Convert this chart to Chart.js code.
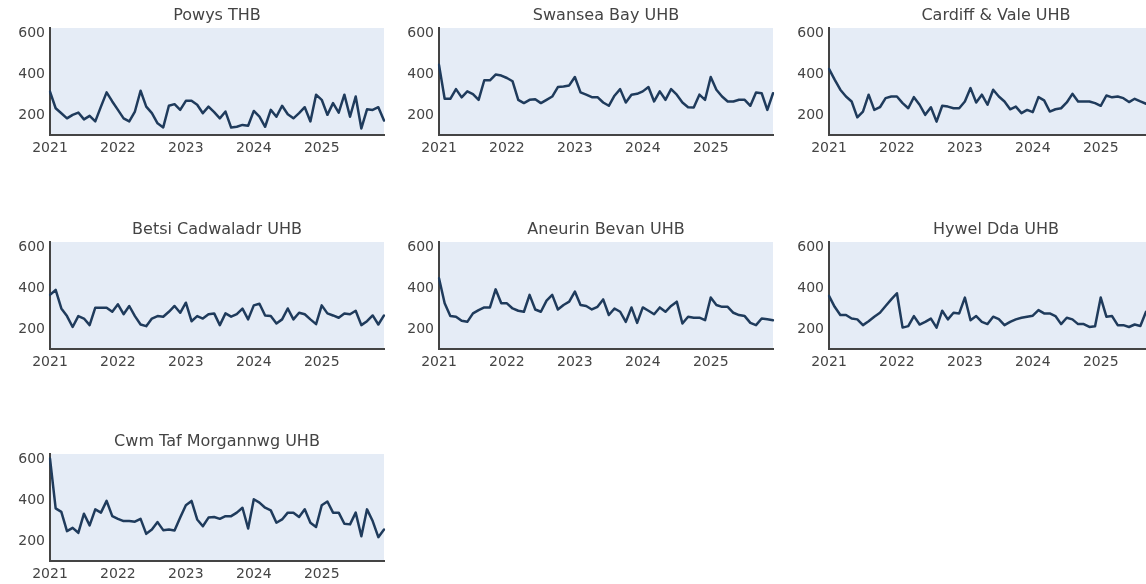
<!DOCTYPE html>
<html>
<head>
<meta charset="utf-8">
<script src="https://cdn.jsdelivr.net/npm/chart.js@4/dist/chart.umd.min.js"></script>
<style>
  html, body { margin: 0; padding: 0; background: #ffffff; overflow: hidden; width: 1146px; height: 584px; }
  #wrap { position: relative; width: 1146px; height: 584px; overflow: hidden; }
  canvas { position: absolute; }
</style>
</head>
<body>
<div id="wrap"></div>
<script>
// ---------- DATA ----------
const years = [2021, 2022, 2023, 2024, 2025];
const xTickLabels = ['2021', '2022', '2023', '2024', '2025'];
const yTickValues = [200, 400, 600];

const titles = [
  'Powys THB', 'Swansea Bay UHB', 'Cardiff & Vale UHB',
  'Betsi Cadwaladr UHB', 'Aneurin Bevan UHB', 'Hywel Dda UHB',
  'Cwm Taf Morgannwg UHB'
];

const powys = [315,234,210,185,202,213,180,197,170,242,311,267,
  226,185,170,218,319,242,210,161,141,246,254,226,
  270,270,251,210,242,215,185,218,140,144,153,149,
  221,193,144,226,193,246,205,185,210,239,170,300,
  275,202,259,213,300,193,291,136,229,226,239,174];

const swansea = [445,280,280,327,287,316,303,275,370,370,398,393,
  381,365,275,259,275,278,259,275,291,337,340,345,
  386,311,300,288,288,262,246,295,327,262,300,304,
  316,337,267,316,275,327,300,262,239,238,300,275,
  386,324,291,267,267,275,275,246,311,307,226,307];

const cardiff = [425,373,324,291,267,190,218,300,226,239,283,291,
  291,259,234,288,251,202,239,169,246,242,234,234,
  267,332,262,300,251,324,291,267,229,242,210,226,
  215,288,272,218,229,234,262,304,267,267,267,259,
  246,296,287,291,283,264,280,267,256,255,262,250];

const betsi = [367,391,301,264,211,264,252,220,305,305,305,285,
  321,273,313,264,223,215,252,264,261,285,313,280,
  329,239,264,252,273,277,220,277,261,273,300,248,
  316,324,267,264,228,248,301,248,280,273,248,225,
  316,277,267,256,277,273,290,220,239,267,223,267];

const aneurin = [448,326,264,261,241,236,277,293,306,306,394,326,
  326,301,290,285,367,296,285,339,367,296,318,334,
  383,318,313,296,309,345,269,301,285,236,306,231,
  306,290,273,306,285,313,334,228,261,256,256,244,
  354,318,309,309,280,269,264,231,220,252,249,244];

const hywel = [362,309,269,269,252,248,220,239,261,280,313,345,
  375,208,215,264,223,236,252,208,290,248,280,277,
  354,244,264,236,225,261,249,220,236,248,256,261,
  266,293,277,277,264,225,256,248,225,225,211,215,
  354,261,264,220,220,211,223,216,285,270,250,260];

const cwmtaf = [602,360,343,249,265,241,334,277,355,339,396,322,
  309,298,298,295,309,236,257,293,254,257,252,315,
  375,396,306,273,315,318,309,322,322,339,363,262,
  404,388,363,350,290,306,339,339,318,355,290,269,
  375,393,339,339,285,282,339,224,355,298,220,257];

const seriesList = [powys, swansea, cardiff, betsi, aneurin, hywel, cwmtaf];

// month categories built from the years list
const months = [];
years.forEach(y => { for (let m = 1; m <= 12; m++) months.push(y + '-' + String(m).padStart(2, '0')); });

// ---------- LAYOUT ----------
const colLefts = [0, 389, 779];
const rowTops = [0, 214, 426];
const Y_AXIS_W = 50, PLOT_W = 334, TITLE_H = 28, PLOT_H = 107, X_AXIS_H = 30;
const CANVAS_W = Y_AXIS_W + PLOT_W + 4;
const CANVAS_H = TITLE_H + PLOT_H + X_AXIS_H;

const FONT = "'DejaVu Sans', Verdana, sans-serif";
const TEXT_COLOR = '#444444';
const LINE_COLOR = '#1f3b5c';
const PLOT_BG = '#e5ecf6';

const plotBg = {
  id: 'plotBg',
  beforeDraw(chart) {
    const a = chart.chartArea, ctx = chart.ctx;
    ctx.save();
    ctx.fillStyle = PLOT_BG;
    ctx.fillRect(a.left, a.top, a.right - a.left, a.bottom - a.top);
    ctx.restore();
  }
};

const wrap = document.getElementById('wrap');

seriesList.forEach((values, i) => {
  const col = i % 3, row = Math.floor(i / 3);
  const canvas = document.createElement('canvas');
  canvas.width = CANVAS_W;
  canvas.height = CANVAS_H;
  canvas.style.left = colLefts[col] + 'px';
  canvas.style.top = rowTops[row] + 'px';
  canvas.style.width = CANVAS_W + 'px';
  canvas.style.height = CANVAS_H + 'px';
  wrap.appendChild(canvas);

  new Chart(canvas, {
    type: 'line',
    data: {
      labels: months,
      datasets: [{
        data: values,
        borderColor: LINE_COLOR,
        borderWidth: 2.5,
        pointRadius: 0,
        pointHoverRadius: 0,
        tension: 0,
        fill: false,
        borderJoinStyle: 'round',
        borderCapStyle: 'round'
      }]
    },
    options: {
      responsive: false,
      maintainAspectRatio: false,
      animation: false,
      devicePixelRatio: 1,
      layout: { padding: { left: 0, right: 4, top: 0, bottom: 0 } },
      plugins: {
        legend: { display: false },
        tooltip: { enabled: false },
        title: {
          display: true,
          text: titles[i],
          fullSize: false,
          color: TEXT_COLOR,
          font: { family: FONT, size: 16, weight: 'normal', lineHeight: 1.2 },
          padding: { top: 6, bottom: 2.8 }
        }
      },
      scales: {
        x: {
          type: 'category',
          offset: false,
          grid: { display: false, drawTicks: false },
          border: { display: true, color: TEXT_COLOR, width: 2 },
          ticks: {
            autoSkip: false,
            maxRotation: 0,
            minRotation: 0,
            padding: 5,
            color: TEXT_COLOR,
            font: { family: FONT, size: 14 },
            callback: function (value) {
              const lab = this.getLabelForValue(value);
              const yr = lab.slice(0, 4);
              return (lab.slice(5) === '01' && xTickLabels.includes(yr)) ? yr : null;
            }
          },
          afterFit(scale) { scale.height = X_AXIS_H; }
        },
        y: {
          type: 'linear',
          min: 104,
          max: 624,
          grid: { display: false, drawTicks: false },
          border: { display: true, color: TEXT_COLOR, width: 2 },
          ticks: {
            padding: 5,
            color: TEXT_COLOR,
            font: { family: FONT, size: 14 }
          },
          afterBuildTicks(scale) { scale.ticks = yTickValues.map(v => ({ value: v })); },
          afterFit(scale) { scale.width = Y_AXIS_W; }
        }
      }
    },
    plugins: [plotBg]
  });
});
</script>
</body>
</html>
